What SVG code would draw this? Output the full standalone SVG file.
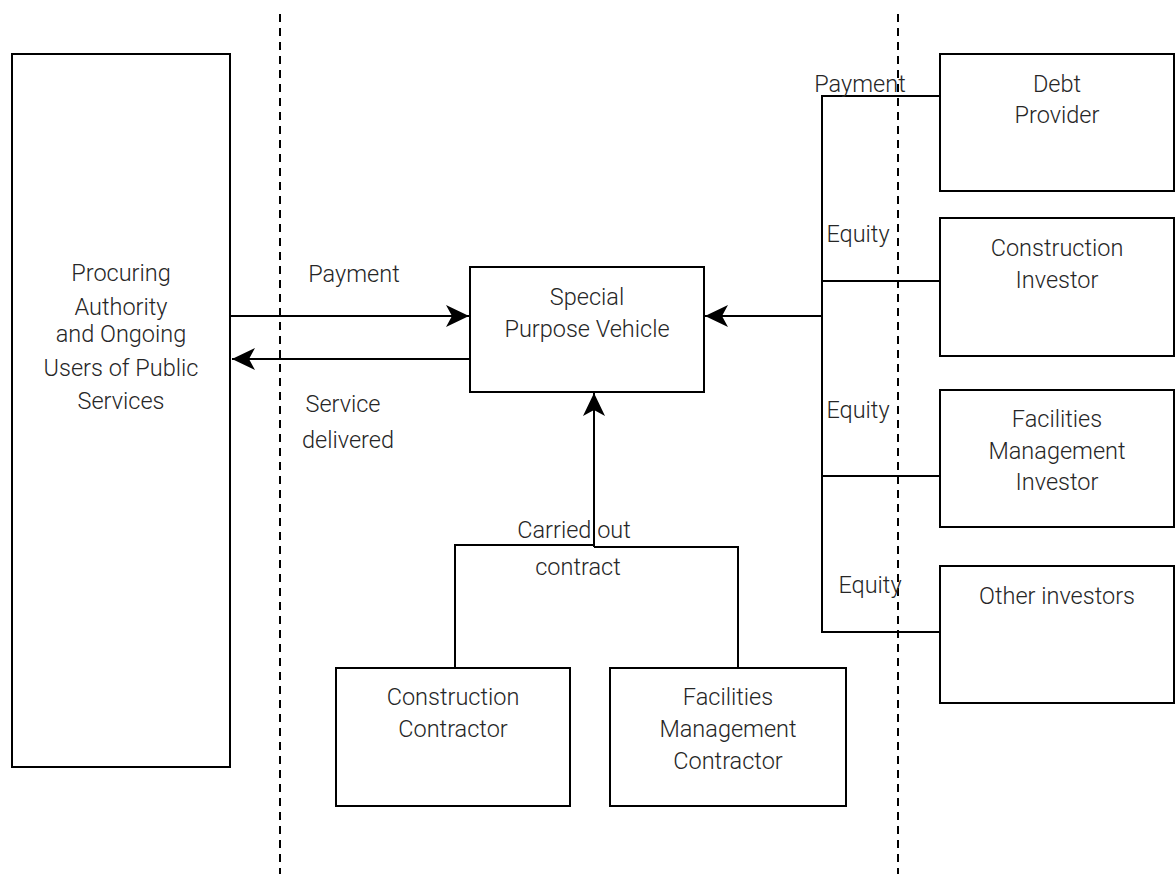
<svg xmlns="http://www.w3.org/2000/svg" width="1175" height="874" viewBox="0 0 1175 874">
  <style>
    .box { fill: #fff; stroke: #000; stroke-width: 2; }
    .lbl { font-family: Roboto, "Liberation Sans", sans-serif; font-weight: 300; font-size: 23.5px; fill: #262626; text-anchor: middle; }
    .wire { fill: none; stroke: #000; stroke-width: 2; }
    .divider { fill: none; stroke: #000; stroke-width: 2; stroke-dasharray: 8 6; }
  </style>
  <defs>
    <marker id="arrow" markerUnits="userSpaceOnUse" markerWidth="26" markerHeight="26" viewBox="0 0 26 26" refX="24" refY="13" orient="auto">
      <path d="M24,13 L1,2 L7,13 L1,24 Z" fill="#000"/>
    </marker>
  </defs>
  <rect width="1175" height="874" fill="#fff"/>

  <!-- zone dividers -->
  <g id="dividers">
    <line class="divider" x1="280" y1="14" x2="280" y2="874"/>
    <line class="divider" x1="898" y1="14" x2="898" y2="874"/>
  </g>

  <!-- connectors -->
  <g id="connectors">
    <line class="wire" x1="231" y1="316" x2="469" y2="316" marker-end="url(#arrow)"/>
    <line class="wire" x1="470" y1="359" x2="232" y2="359" marker-end="url(#arrow)"/>
    <path class="wire" d="M940,96 H822 V632 H940"/>
    <line class="wire" x1="822" y1="281" x2="940" y2="281"/>
    <line class="wire" x1="822" y1="476" x2="940" y2="476"/>
    <line class="wire" x1="822" y1="316" x2="705" y2="316" stroke-width="2.5" marker-end="url(#arrow)"/>
    <path class="wire" d="M455,668 V545 H594"/>
    <path class="wire" d="M738,668 V547 H594"/>
    <line class="wire" x1="594" y1="547" x2="594" y2="393" marker-end="url(#arrow)"/>
  </g>

  <!-- connector labels -->
  <g id="edge-labels">
    <text class="lbl" x="354" y="282">Payment</text>
    <text class="lbl" x="343" y="412">Service</text>
    <text class="lbl" x="348" y="448">delivered</text>
    <text class="lbl" x="860" y="92">Payment</text>
    <text class="lbl" x="858" y="242">Equity</text>
    <text class="lbl" x="858" y="418">Equity</text>
    <text class="lbl" x="870" y="593">Equity</text>
    <text class="lbl" x="574" y="538">Carried out</text>
    <text class="lbl" x="578" y="575">contract</text>
  </g>

  <g id="procuring-authority">
    <rect class="box" x="12" y="54" width="218" height="713"/>
    <text class="lbl" x="121" y="281">Procuring</text>
    <text class="lbl" x="121" y="315">Authority</text>
    <text class="lbl" x="121" y="342">and Ongoing</text>
    <text class="lbl" x="121" y="376">Users of Public</text>
    <text class="lbl" x="121" y="409">Services</text>
  </g>

  <g id="spv">
    <rect class="box" x="470" y="267" width="234" height="125"/>
    <text class="lbl" x="587" y="305">Special</text>
    <text class="lbl" x="587" y="337">Purpose Vehicle</text>
  </g>

  <g id="debt-provider">
    <rect class="box" x="940" y="54" width="234" height="137"/>
    <text class="lbl" x="1057" y="92">Debt</text>
    <text class="lbl" x="1057" y="123">Provider</text>
  </g>

  <g id="construction-investor">
    <rect class="box" x="940" y="218" width="234" height="138"/>
    <text class="lbl" x="1057" y="256">Construction</text>
    <text class="lbl" x="1057" y="288">Investor</text>
  </g>

  <g id="fm-investor">
    <rect class="box" x="940" y="390" width="234" height="137"/>
    <text class="lbl" x="1057" y="427">Facilities</text>
    <text class="lbl" x="1057" y="459">Management</text>
    <text class="lbl" x="1057" y="490">Investor</text>
  </g>

  <g id="other-investors">
    <rect class="box" x="940" y="566" width="234" height="137"/>
    <text class="lbl" x="1057" y="604">Other investors</text>
  </g>

  <g id="construction-contractor">
    <rect class="box" x="336" y="668" width="234" height="138"/>
    <text class="lbl" x="453" y="705">Construction</text>
    <text class="lbl" x="453" y="737">Contractor</text>
  </g>

  <g id="fm-contractor">
    <rect class="box" x="610" y="668" width="236" height="138"/>
    <text class="lbl" x="728" y="705">Facilities</text>
    <text class="lbl" x="728" y="737">Management</text>
    <text class="lbl" x="728" y="769">Contractor</text>
  </g>
</svg>
